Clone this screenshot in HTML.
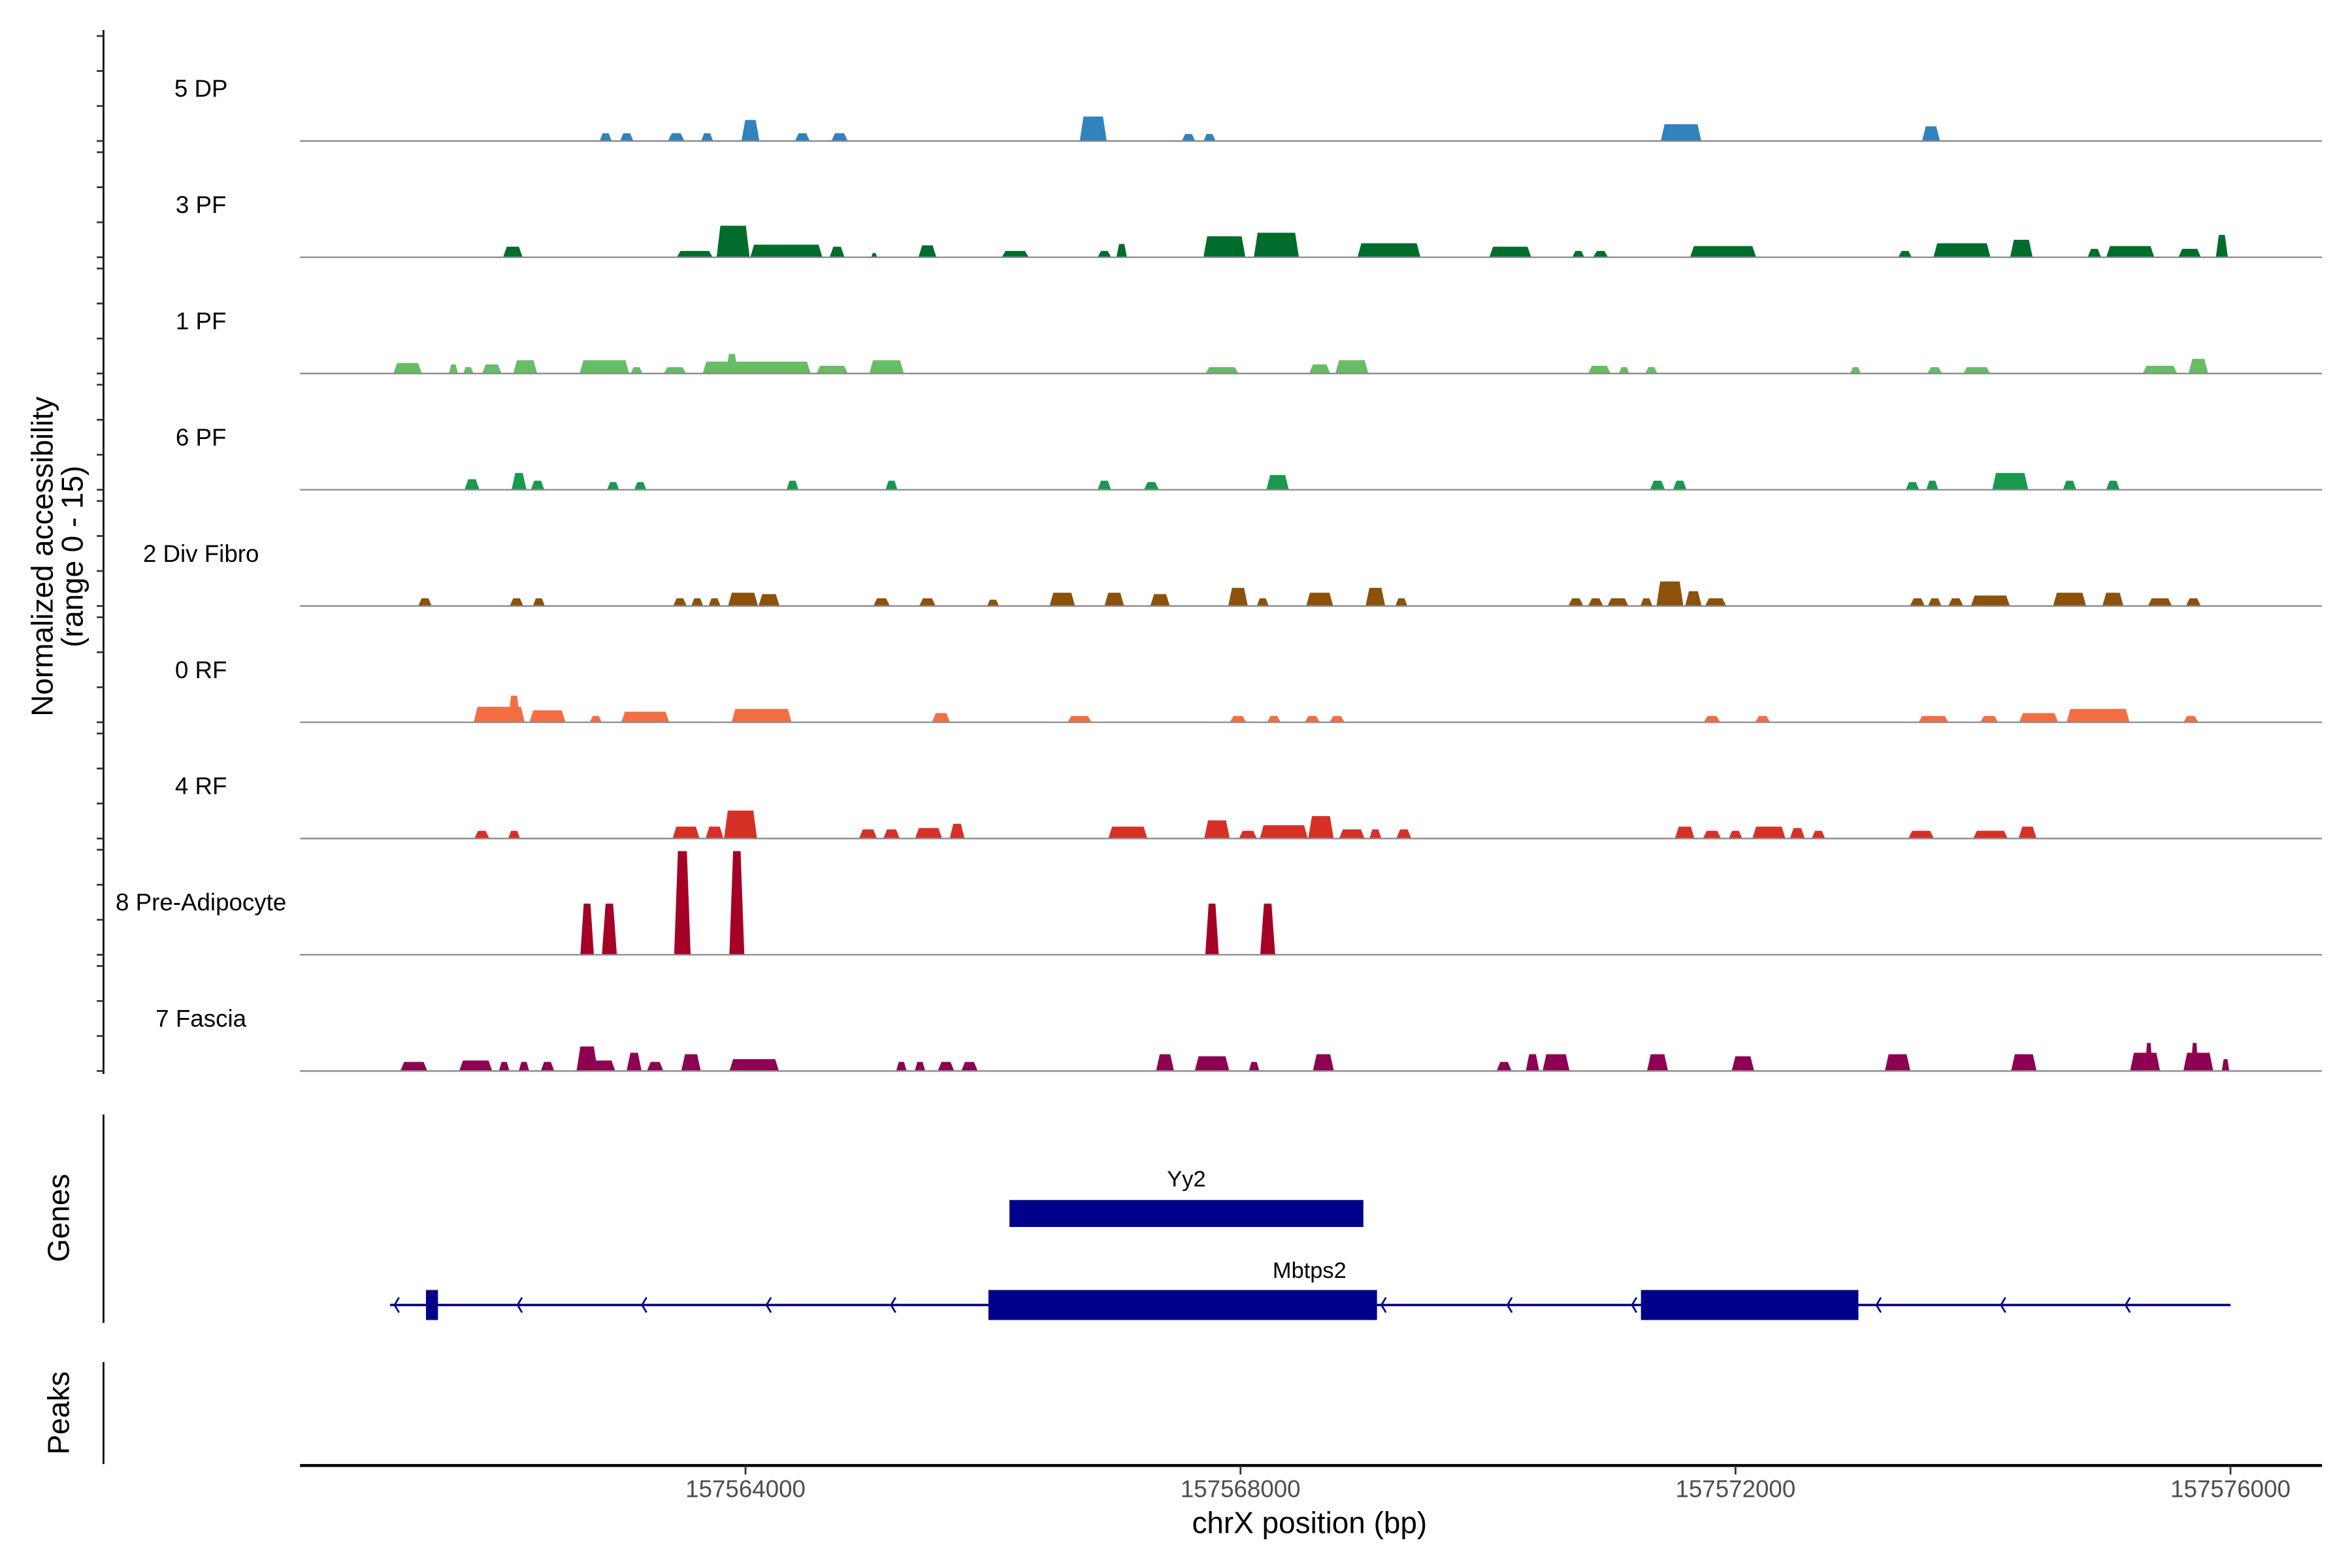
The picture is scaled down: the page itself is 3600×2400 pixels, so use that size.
<!DOCTYPE html>
<html>
<head>
<meta charset="utf-8">
<style>
html,body{margin:0;padding:0;background:#fff;}
svg{display:block;font-family:"Liberation Sans",Arial,sans-serif;}
</style>
</head>
<body>
<svg id="chart" xmlns="http://www.w3.org/2000/svg" width="3600" height="2400" viewBox="0 0 1568 1045.33">
  <rect x="0" y="0" width="1568" height="1045.33" fill="#fff"/>
  <g id="tracks"></g>
  <line x1="69" y1="20" x2="69" y2="716" stroke="#000" stroke-width="1.2"/>
  <g id="yticks"></g>
  <text transform="translate(35,371) rotate(-90)" text-anchor="middle" font-size="20" fill="#000">Normalized accessibility</text>
  <text transform="translate(55,371) rotate(-90)" text-anchor="middle" font-size="20" fill="#000">(range 0 - 15)</text>

  <line x1="69" y1="743" x2="69" y2="882" stroke="#000" stroke-width="1.2"/>
  <text transform="translate(46,812) rotate(-90)" text-anchor="middle" font-size="20" fill="#000">Genes</text>
  <g id="genes"></g>

  <line x1="69" y1="908" x2="69" y2="976" stroke="#000" stroke-width="1.2"/>
  <text transform="translate(46,942) rotate(-90)" text-anchor="middle" font-size="20" fill="#000">Peaks</text>

  <line x1="200" y1="977" x2="1548" y2="977" stroke="#000" stroke-width="2"/>
  <g id="xticks"></g>
  <text x="873" y="1022" text-anchor="middle" font-size="20" fill="#000">chrX position (bp)</text>
</svg>
<script>
// ---- data: peaks as [center (kb), width (bp), value] ----
const trackNames = ["5 DP","3 PF","1 PF","6 PF","2 Div Fibro","0 RF","4 RF","8 Pre-Adipocyte","7 Fascia"];
const trackColors = ["#3182bd","#006d2c","#66bd63","#1a9850","#8c510a","#f46d43","#d73027","#a50026","#8e0152"];
const xTicks = [157564000,157568000,157572000,157576000];
const yTickValues = [0,5,10,15];

const peaks5DP = [[157562.87,97,1.1],[157563.04,109,1.1],[157563.44,133,1.1],[157563.69,97,1.1],[157564.04,145,3],[157564.46,121,1.1],[157564.76,133,1.1],[157566.81,218,3.5],[157567.58,109,1],[157567.75,97,1],[157571.56,327,2.4],[157573.58,145,2.1]];
const peaks3PF = [[157562.12,158,1.5],[157563.59,291,0.9],[157563.90,267,4.5],[157564.33,582,1.8],[157564.74,121,1.5],[157565.04,48,0.6],[157565.47,145,1.7],[157566.18,218,0.9],[157566.90,109,0.9],[157567.04,85,1.9],[157567.87,339,3],[157568.29,364,3.5],[157569.20,509,2],[157570.18,339,1.5],[157570.73,97,0.9],[157570.91,121,0.9],[157571.90,533,1.6],[157573.37,109,0.9],[157573.83,461,2],[157574.31,182,2.5],[157574.90,109,1.2],[157575.19,388,1.6],[157575.67,182,1.2],[157575.93,97,3.2]];
const peaks1PF = [[157561.27,230,1.5],[157561.64,73,1.3],[157561.76,85,0.9],[157561.95,158,1.3],[157562.22,194,1.9],[157562.86,400,1.9],[157563.12,97,0.9],[157563.43,182,0.9],[157564.09,873,1.7],[157563.89,97,2.8],[157564.70,255,1.1],[157565.14,279,1.9],[157567.85,267,0.9],[157568.64,170,1.3],[157568.90,267,1.9],[157570.90,182,1.1],[157571.10,85,0.9],[157571.32,97,0.9],[157572.97,85,0.9],[157573.61,121,0.9],[157573.95,218,0.9],[157575.43,279,1.1],[157575.74,158,2.1]];
const peaks6PF = [[157561.79,121,1.5],[157562.17,121,2.4],[157562.32,109,1.3],[157562.93,97,1.1],[157563.15,97,1.1],[157564.38,97,1.3],[157565.18,97,1.3],[157566.90,109,1.3],[157567.28,121,1.1],[157568.30,182,2.1],[157571.37,121,1.3],[157571.55,109,1.3],[157573.43,109,1.1],[157573.59,97,1.3],[157574.22,291,2.4],[157574.70,109,1.3],[157575.05,109,1.3]];
const peaks2DivFibro = [[157561.41,109,1.1],[157562.15,109,1.1],[157562.33,97,1.1],[157563.47,109,1.1],[157563.61,97,1.1],[157563.75,97,1.1],[157563.98,242,1.9],[157564.19,170,1.7],[157565.10,133,1.1],[157565.47,133,1.1],[157566.00,97,0.9],[157566.56,206,1.9],[157566.98,158,1.9],[157567.35,158,1.7],[157567.98,158,2.6],[157568.18,97,1.1],[157568.64,218,1.9],[157569.09,158,2.6],[157569.30,97,1.1],[157570.71,121,1.1],[157570.87,121,1.1],[157571.05,170,1.1],[157571.28,97,1.1],[157571.47,218,3.5],[157571.66,133,2.1],[157571.84,170,1.1],[157573.47,121,1.1],[157573.61,109,1.1],[157573.78,121,1.1],[157574.06,315,1.5],[157574.70,267,1.9],[157575.05,170,1.9],[157575.43,194,1.1],[157575.70,121,1.1]];
const peaks0RF = [[157562.01,412,2.2],[157562.13,97,3.8],[157562.40,291,1.7],[157562.79,97,0.9],[157563.19,388,1.5],[157564.13,485,1.9],[157565.58,145,1.3],[157566.70,194,0.9],[157567.98,133,0.9],[157568.27,109,0.9],[157568.58,121,0.9],[157568.78,121,0.9],[157571.81,133,0.9],[157572.22,121,0.9],[157573.60,242,0.9],[157574.05,145,0.9],[157574.45,315,1.3],[157574.93,509,1.9],[157575.68,121,0.9]];
const peaks4RF = [[157561.87,121,1.1],[157562.13,97,1.1],[157563.52,218,1.7],[157563.75,145,1.7],[157563.96,267,4],[157564.99,145,1.3],[157565.18,133,1.3],[157565.48,218,1.5],[157565.71,121,2.1],[157567.09,315,1.7],[157567.81,206,2.6],[157568.06,145,1.1],[157568.35,388,1.9],[157568.65,206,3.2],[157568.90,206,1.3],[157569.09,97,1.3],[157569.32,121,1.3],[157571.59,158,1.7],[157571.81,145,1.1],[157572.00,109,1.1],[157572.27,267,1.7],[157572.50,121,1.5],[157572.67,109,1.1],[157573.50,206,1.1],[157574.06,279,1.1],[157574.36,145,1.7]];
const peaks8PreAdipocyte = [[157562.72,109,7.3],[157562.90,121,7.3],[157563.49,133,14.8],[157563.93,121,14.8],[157567.77,109,7.3],[157568.22,121,7.3]];
const peaks7Fascia = [[157561.32,218,1.3],[157561.82,267,1.5],[157562.05,85,1.3],[157562.21,85,1.3],[157562.40,109,1.3],[157562.79,315,1.5],[157562.72,170,3.5],[157563.10,121,2.6],[157563.27,133,1.3],[157563.56,158,2.4],[157564.07,400,1.7],[157565.26,85,1.3],[157565.41,85,1.3],[157565.62,133,1.3],[157565.81,133,1.3],[157567.39,145,2.4],[157567.77,279,2.1],[157568.11,85,1.3],[157568.67,170,2.4],[157570.13,121,1.3],[157570.36,109,2.4],[157570.55,218,2.4],[157571.37,170,2.4],[157572.06,182,2.1],[157573.31,206,2.4],[157574.33,206,2.4],[157575.31,242,2.6],[157575.34,61,4],[157575.74,242,2.6],[157575.71,61,4],[157575.96,61,1.7]];
const trackPeaks = [peaks5DP,peaks3PF,peaks1PF,peaks6PF,peaks2DivFibro,peaks0RF,peaks4RF,peaks8PreAdipocyte,peaks7Fascia];

// genes
const yy2Gene = [157566133,157568993];
const mbtps2Span = [157561128,157576000];
const mbtps2Exons = [[157561418,157561515],[157565963,157569103],[157571236,157572993]];
const mbtps2Arrows = [157561164,157562158,157563164,157564170,157565176,157569139,157570157,157571164,157573139,157574145,157575152];

// ---- scales ----
const X0 = 497, PX_PER_BP = (1487-497)/12000;
function xScale(bp){ return X0 + (bp-157564000)*PX_PER_BP; }
const firstBase = 94, trackStep = 77.5, trackH = 70, yMax = 15;
function baseY(i){ return firstBase + i*trackStep; }
function yScale(i,v){ return baseY(i) - v/yMax*trackH; }

const NS = "http://www.w3.org/2000/svg";
function mk(tag, attrs, parent){
  const e = document.createElementNS(NS, tag);
  for (const k in attrs) e.setAttribute(k, attrs[k]);
  parent.appendChild(e);
  return e;
}

const tracksG = document.getElementById("tracks");
const yticksG = document.getElementById("yticks");
trackNames.forEach((name,i)=>{
  const g = mk("g", {}, tracksG);
  
  
  const b = baseY(i);
  const lab = mk("text", {x:134, y:b-29.5, "text-anchor":"middle", "font-size":16, fill:"#000"}, g);
  lab.textContent = name;
  
  
  trackPeaks[i].forEach(p=>{
    const c = p[0]*1000, w = p[1], v = p[2];
    const x0 = xScale(c - w/2), x1 = xScale(c + w/2);
    const top = yScale(i, v);
    const s = Math.min(2.5, (x1-x0)/4);
    const poly = mk("polygon", {points:`${x0},${b} ${x0+s},${top} ${x1-s},${top} ${x1},${b}`, fill:trackColors[i]}, g);
    
    
  });
  const bl = mk("line", {x1:200, y1:b, x2:1548, y2:b, stroke:"#8a8a8a", "stroke-width":1}, g);
  
  
  yTickValues.forEach(v=>{
    const y = yScale(i, v);
    const t = mk("line", {x1:64.5, y1:y, x2:69, y2:y, stroke:"#333", "stroke-width":1.2}, yticksG);
    
    
  });
});

// genes
const genesG = document.getElementById("genes");
const navy = "#00008b";
const yy = mk("rect", {x:xScale(yy2Gene[0]), y:800, width:xScale(yy2Gene[1])-xScale(yy2Gene[0]), height:18, fill:navy}, genesG);


const yyl = mk("text", {x:(xScale(yy2Gene[0])+xScale(yy2Gene[1]))/2, y:791, "text-anchor":"middle", "font-size":15, fill:"#000"}, genesG);
yyl.textContent = "Yy2";


const ml = mk("line", {x1:xScale(mbtps2Span[0]), y1:870, x2:xScale(mbtps2Span[1]), y2:870, stroke:navy, "stroke-width":1.6}, genesG);


mbtps2Exons.forEach(ex=>{
  const r = mk("rect", {x:xScale(ex[0]), y:860, width:xScale(ex[1])-xScale(ex[0]), height:20, fill:navy}, genesG);
  
  
});
mbtps2Arrows.forEach(a=>{
  const x = xScale(a);
  const p = mk("polyline", {points:`${x+3},865 ${x},870 ${x+3},875`, fill:"none", stroke:navy, "stroke-width":1.2}, genesG);
  
  
});
const mlab = mk("text", {x:873, y:852, "text-anchor":"middle", "font-size":15, fill:"#000"}, genesG);
mlab.textContent = "Mbtps2";



// x ticks
const xticksG = document.getElementById("xticks");
xTicks.forEach(t=>{
  const x = xScale(t);
  const l = mk("line", {x1:x, y1:977, x2:x, y2:983, stroke:"#333", "stroke-width":1.2}, xticksG);
  
  
  const tx = mk("text", {x:x, y:998, "text-anchor":"middle", "font-size":16, fill:"#4d4d4d"}, xticksG);
  tx.textContent = String(t);
  
  
});
</script>
</body>
</html>
